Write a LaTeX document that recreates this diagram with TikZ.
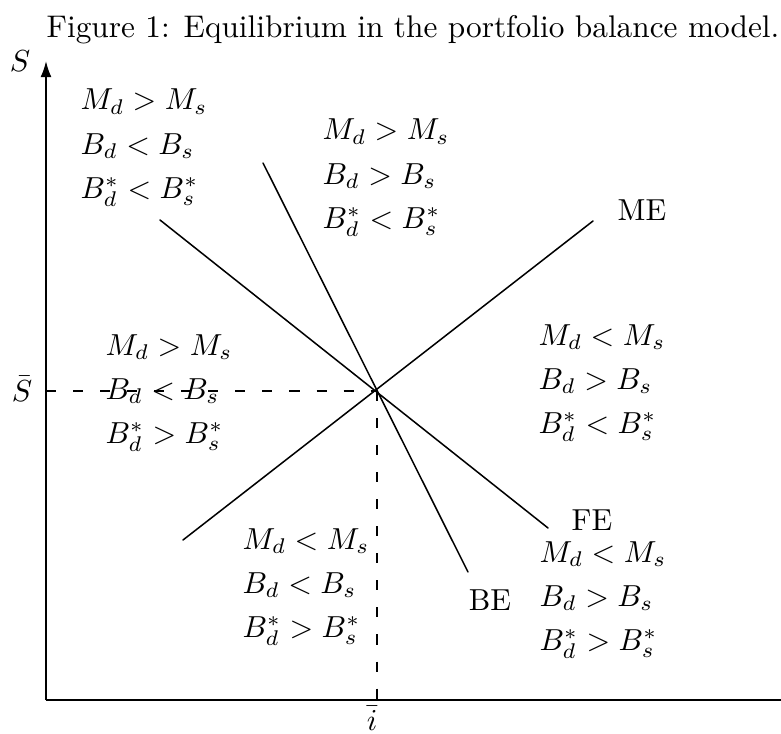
\documentclass[tikz,border=0pt]{standalone}
\usepackage{amsmath}
\usepackage{tikz}
\usetikzlibrary{arrows.meta}
\tikzset{
  pAxis/.style={line width=.6pt},
  pLine/.style={line width=.5pt,line cap=round},
  pGuide/.style={line width=.5pt,dash pattern=on 3.3pt off 5.6pt},
  pRegion/.style={anchor=west,align=left,inner sep=0pt,
        font=\fontsize{10}{14.5}\selectfont},
  pLabel/.style={inner sep=0pt,font=\normalsize},
}

\begin{document}
\begin{tikzpicture}[x=0.329pt,y=0.329pt]
\useasboundingbox (-46,-33) rectangle (735,700);
\node[pLabel,font=\fontsize{10.3}{12}\selectfont] (cap) at (367,670)
  {Figure 1: Equilibrium in the portfolio balance model.};

% axes
\coordinate (O)    at (0,0);
\coordinate (ytop) at (0,639);
\coordinate (xend) at (735,0);
\draw[pAxis,-{Latex[length=5.3pt,width=3.6pt]}] (O) -- (ytop);
\draw[pAxis] (O) -- (xend);
\node[pLabel] (sLab)    at (-26,639) {$S$};
\node[pLabel] (sbarLab) at (-24,311) {$\bar{S}$};
\node[pLabel] (ibarLab) at (326,-18) {$\bar{i}$};

% equilibrium and guides
\coordinate (E)  at (331,309);
\coordinate (Ey) at (0,309);
\coordinate (Ex) at (331,0);
\draw[pGuide] (Ey) -- (E);
\draw[pGuide] (E) -- (Ex);

% schedules
\coordinate (me1) at (137,160);
\coordinate (me2) at (547,479);
\coordinate (fe1) at (114,480);
\coordinate (fe2) at (502,172);
\coordinate (be1) at (217,537);
\coordinate (be2) at (422,128);
\draw[pLine] (me1) -- (me2);
\draw[pLine] (fe1) -- (fe2);
\draw[pLine] (be1) -- (be2);
\node[pLabel] (meLab) at (596,490) {ME};
\node[pLabel] (feLab) at (546,180) {FE};
\node[pLabel] (beLab) at (444,100) {BE};

% market conditions in each region
\node[pRegion] (rTL) at (34,552)  {$M_d > M_s$\\$B_d < B_s$\\$B^*_d < B^*_s$};
\node[pRegion] (rTM) at (276,522) {$M_d > M_s$\\$B_d > B_s$\\$B^*_d < B^*_s$};
\node[pRegion] (rR)  at (492,317) {$M_d < M_s$\\$B_d > B_s$\\$B^*_d < B^*_s$};
\node[pRegion] (rL)  at (59,307)  {$M_d > M_s$\\$B_d < B_s$\\$B^*_d > B^*_s$};
\node[pRegion] (rBM) at (196,113) {$M_d < M_s$\\$B_d < B_s$\\$B^*_d > B^*_s$};
\node[pRegion] (rBR) at (493,100) {$M_d < M_s$\\$B_d > B_s$\\$B^*_d > B^*_s$};
\end{tikzpicture}
\end{document}
